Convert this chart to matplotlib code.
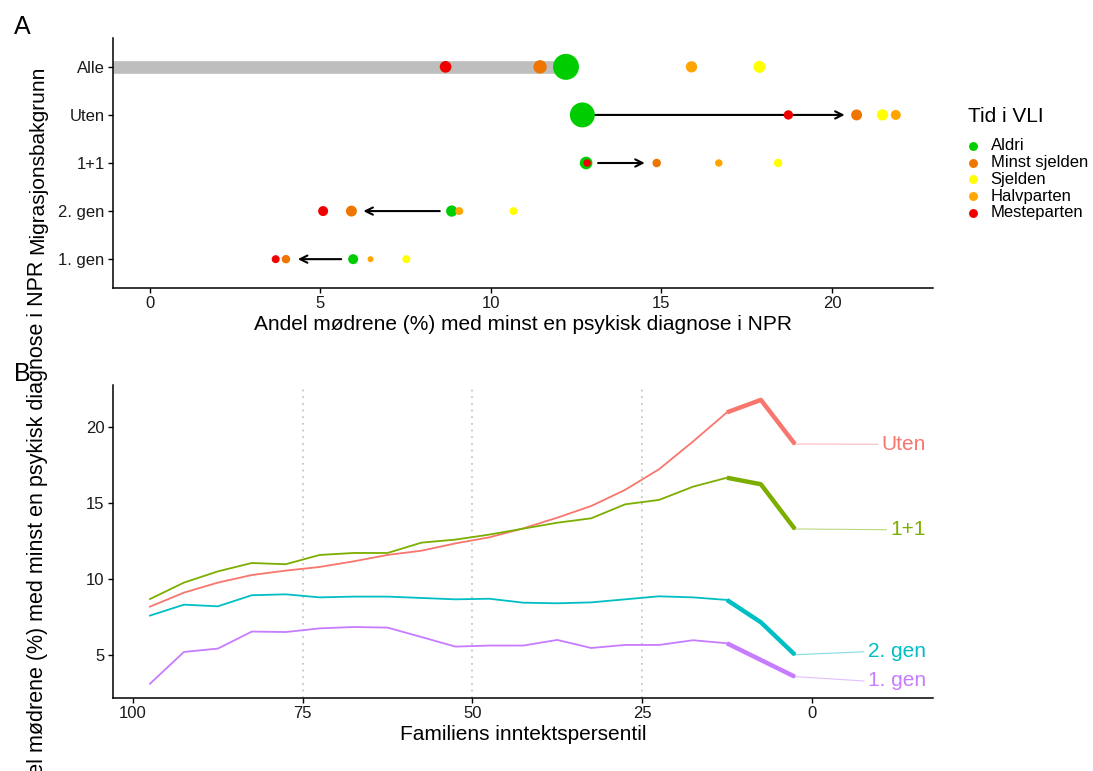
import numpy as np
import matplotlib.pyplot as plt
from matplotlib.lines import Line2D

plt.rcParams['font.family'] = ['Liberation Sans', 'DejaVu Sans']

# Panel A: andel per migrasjonsgruppe og tid i VLI
grupper = ['Alle', 'Uten', '1+1', '2. gen', '1. gen']
kategorier = ['Aldri', 'Minst sjelden', 'Sjelden', 'Halvparten', 'Mesteparten']
farger = ['#00CD00', '#EE7600', '#FFFF00', '#FFA500', '#EE0000']

aldri = [12.20, 12.68, 12.79, 8.85, 5.96]
minst_sjelden = [11.44, 20.72, 14.86, 5.91, 3.99]
sjelden = [17.87, 21.48, 18.42, 10.66, 7.52]
halvparten = [15.88, 21.87, 16.68, 9.07, 6.47]
mesteparten = [8.67, 18.72, 12.82, 5.08, 3.69]

# relativ gruppestorrelse (punktareal)
n_aldri = [169, 156, 40, 32, 25]
n_minst = [45, 30, 18, 30, 18]
n_sjelden = [36, 32, 18, 16, 16]
n_halv = [32, 25, 14, 16, 9]
n_meste = [34, 22, 14, 25, 16]

# Panel B: andel etter inntektspersentil
persentil = [97.5, 92.5, 87.5, 82.5, 77.5, 72.5, 67.5, 62.5, 57.5, 52.5,
             47.5, 42.5, 37.5, 32.5, 27.5, 22.5, 17.5, 12.5, 7.5, 2.5]
serier = ['Uten', '1+1', '2. gen', '1. gen']
serie_farger = ['#F8766D', '#7CAE00', '#00BFC4', '#C77CFF']
uten = [8.18, 9.10, 9.76, 10.26, 10.55, 10.79, 11.16, 11.58, 11.86, 12.34,
        12.74, 13.33, 14.03, 14.80, 15.86, 17.22, 19.04, 20.96, 21.78, 18.88]
en_pluss_en = [8.68, 9.76, 10.50, 11.05, 10.97, 11.58, 11.71, 11.71, 12.39, 12.59,
               12.92, 13.31, 13.70, 13.99, 14.91, 15.20, 16.07, 16.66, 16.23, 13.29]
andre_gen = [7.59, 8.31, 8.20, 8.93, 8.99, 8.79, 8.84, 8.84, 8.75, 8.66,
             8.70, 8.44, 8.40, 8.46, 8.66, 8.86, 8.79, 8.62, 7.15, 5.02]
forste_gen = [3.11, 5.20, 5.42, 6.54, 6.51, 6.75, 6.84, 6.80, 6.18, 5.55,
              5.62, 5.62, 5.99, 5.46, 5.66, 5.66, 5.97, 5.77, 4.67, 3.57]
etikett_y = [18.86, 13.24, 5.21, 3.29]

W, H = 1093, 771
fig = plt.figure(figsize=(W / 100, H / 100), dpi=100)
ax1 = fig.add_axes([113 / W, 1 - 288 / H, 820 / W, 250 / H])
ax2 = fig.add_axes([113 / W, 1 - 698 / H, 820 / W, 313 / H])

tekstfarge = '#1a1a1a'
for ax in (ax1, ax2):
    for side in ('top', 'right'):
        ax.spines[side].set_visible(False)
    for side in ('left', 'bottom'):
        ax.spines[side].set_linewidth(1.1)
    ax.tick_params(length=3.5, width=1.0, labelsize=12, pad=2.5, labelcolor=tekstfarge)

# ---- Panel A ----
ypos = np.arange(len(grupper), 0, -1)
ax1.set_xlim(-1.08, 22.96)
ax1.set_ylim(0.4, 5.6)

ax1.plot([-1.08, aldri[0]], [ypos[0], ypos[0]], color='#BEBEBE', lw=9.1,
         solid_capstyle='butt', zorder=1)

for i in range(1, len(grupper)):
    retning = np.sign(minst_sjelden[i] - aldri[i])
    start = aldri[i] + retning * 0.35
    slutt = minst_sjelden[i] - retning * 0.35
    ax1.annotate('', xy=(slutt, ypos[i]), xytext=(start, ypos[i]),
                 arrowprops=dict(arrowstyle='->', lw=1.5, color='black',
                                 shrinkA=0, shrinkB=0, mutation_scale=13),
                 zorder=2)

verdier = [aldri, minst_sjelden, sjelden, halvparten, mesteparten]
storrelser = [n_aldri, n_minst, n_sjelden, n_halv, n_meste]
for k, (v, n, c) in enumerate(zip(verdier, storrelser, farger)):
    ax1.scatter(v, ypos, s=2.07 * np.array(n), color=c, edgecolors='none',
                zorder=3 + k)

ax1.set_yticks(ypos)
ax1.set_yticklabels(grupper)
ax1.set_xticks([0, 5, 10, 15, 20])
ax1.set_xlabel('Andel mødrene (%) med minst en psykisk diagnose i NPR',
               fontsize=15, labelpad=3)

# ---- Panel B ----
ax2.set_xlim(102.95, -17.86)
ax2.set_ylim(2.17, 22.76)
for x in (75, 50, 25):
    ax2.axvline(x, color='#BEBEBE', lw=1.2, ls=(0, (1, 3)), zorder=0)

linjer = [uten, en_pluss_en, andre_gen, forste_gen]
for verdi, c in zip(linjer, serie_farger):
    ax2.plot(persentil, verdi, color=c, lw=1.3, solid_joinstyle='round')
    ax2.plot(persentil[-3:], verdi[-3:], color=c, lw=3.2,
             solid_capstyle='butt', solid_joinstyle='round')

tekster = []
for navn, y, c in zip(serier, etikett_y, serie_farger):
    tekster.append(ax2.text(-16.8, y, navn, ha='right', va='center',
                            fontsize=15, color=c))

ax2.set_xticks([100, 75, 50, 25, 0])
ax2.set_yticks([5, 10, 15, 20])
ax2.set_xlabel('Familiens inntektspersentil', fontsize=15, labelpad=3)

# leader lines from last point to label
fig.canvas.draw()
inv = ax2.transData.inverted()
for t, verdi, y, c in zip(tekster, linjer, etikett_y, serie_farger):
    bb = t.get_window_extent()
    venstre = inv.transform((bb.x0 - 4, 0))[0]
    ax2.plot([2.2, venstre], [verdi[-1], y], color=c, lw=0.8, alpha=0.5)

# shared axis titles and panel tags
fig.text(38 / W, 1 - 537 / H,
         'Andel mødrene (%) med minst en psykisk diagnose i NPR',
         rotation=90, ha='center', va='center', fontsize=15.5)
fig.text(38 / W, 1 - 160 / H, 'Migrasjonsbakgrunn', rotation=90,
         ha='center', va='center', fontsize=15)
fig.text(22 / W, 1 - 27 / H, 'A', ha='center', va='center', fontsize=18)
fig.text(22 / W, 1 - 374 / H, 'B', ha='center', va='center', fontsize=18)

# legend
fig.text(968 / W, 1 - 117 / H, 'Tid i VLI', ha='left', va='center', fontsize=15)
for k, (navn, c) in enumerate(zip(kategorier, farger)):
    yy = 1 - (146 + 16.7 * k) / H
    fig.add_artist(Line2D([972.7 / W], [yy], transform=fig.transFigure,
                          marker='o', markersize=5.4, color=c, ls='none'))
    fig.text(990.7 / W, yy, navn, ha='left', va='center', fontsize=12)

fig.savefig('out.png', dpi=100)
